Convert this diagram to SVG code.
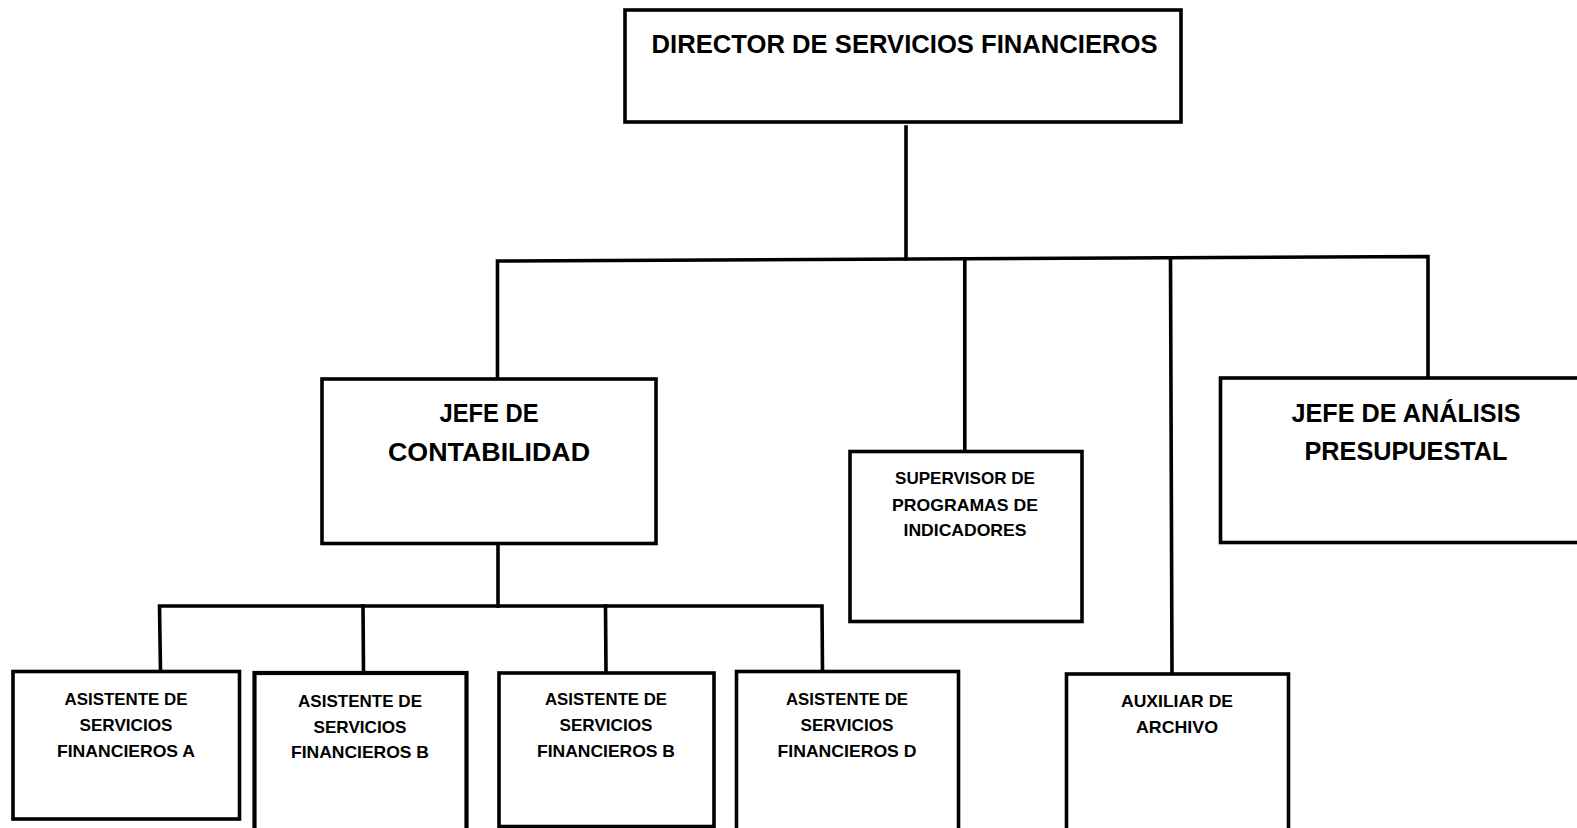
<svg xmlns="http://www.w3.org/2000/svg" width="1577" height="828" viewBox="0 0 1577 828">
<style>
.box{fill:#fff;stroke:#000;stroke-width:3.6}
.ln{fill:none;stroke:#000;stroke-width:3.6;stroke-linecap:square}
text{font-family:"Liberation Sans",Arial,sans-serif;font-weight:bold;fill:#000;text-anchor:middle}
.big{font-size:26.5px}
.sm{font-size:17px}
</style>
<rect width="1577" height="828" fill="#fff"/>
<g id="connectors">
<polyline class="ln" points="906,127 906,259"/>
<polyline class="ln" points="497.5,379 497.5,261 1428,256.5 1428,378"/>
<polyline class="ln" points="964.8,259 964.8,451"/>
<polyline class="ln" points="1170.5,258 1172,673"/>
<polyline class="ln" points="498,544 498,606"/>
<polyline class="ln" points="160.5,671 159.5,606 822,606 822.5,671"/>
<polyline class="ln" points="363,606 363.5,672"/>
<polyline class="ln" points="605.5,606 606,672"/>
</g>
<g id="director">
<rect class="box" x="625" y="10" width="556" height="112"/>
<text class="big" x="904.6" y="52.5" textLength="506" lengthAdjust="spacingAndGlyphs">DIRECTOR DE SERVICIOS FINANCIEROS</text>
</g>
<g id="jefe-contabilidad">
<rect class="box" x="322" y="379" width="334" height="164.5"/>
<text class="big" x="489" y="422" textLength="99" lengthAdjust="spacingAndGlyphs">JEFE DE</text>
<text class="big" x="489" y="461" textLength="202" lengthAdjust="spacingAndGlyphs">CONTABILIDAD</text>
</g>
<g id="supervisor">
<rect class="box" x="850" y="451.5" width="232" height="170"/>
<text class="sm" x="965" y="484" textLength="140" lengthAdjust="spacingAndGlyphs">SUPERVISOR DE</text>
<text class="sm" x="965" y="510.5" textLength="146" lengthAdjust="spacingAndGlyphs">PROGRAMAS DE</text>
<text class="sm" x="965" y="536" textLength="123" lengthAdjust="spacingAndGlyphs">INDICADORES</text>
</g>
<g id="jefe-analisis">
<rect class="box" x="1220.5" y="378" width="370" height="164.5"/>
<text class="big" x="1406" y="421.5" textLength="229" lengthAdjust="spacingAndGlyphs">JEFE DE ANÁLISIS</text>
<text class="big" x="1406" y="459.5" textLength="203" lengthAdjust="spacingAndGlyphs">PRESUPUESTAL</text>
</g>
<g id="asistente-a">
<rect class="box" x="13" y="671.5" width="226.5" height="147.5"/>
<text class="sm" x="126" y="705" textLength="123" lengthAdjust="spacingAndGlyphs">ASISTENTE DE</text>
<text class="sm" x="126" y="731" textLength="93" lengthAdjust="spacingAndGlyphs">SERVICIOS</text>
<text class="sm" x="126" y="756.5" textLength="138" lengthAdjust="spacingAndGlyphs">FINANCIEROS A</text>
</g>
<g id="asistente-b1">
<rect class="box" x="254.5" y="673" width="212" height="170" style="stroke-width:4.2"/>
<text class="sm" x="360" y="706.5" textLength="124" lengthAdjust="spacingAndGlyphs">ASISTENTE DE</text>
<text class="sm" x="360" y="732.5" textLength="93" lengthAdjust="spacingAndGlyphs">SERVICIOS</text>
<text class="sm" x="360" y="758" textLength="138" lengthAdjust="spacingAndGlyphs">FINANCIEROS B</text>
</g>
<g id="asistente-b2">
<rect class="box" x="499" y="673" width="215" height="153.5"/>
<text class="sm" x="606" y="705" textLength="122" lengthAdjust="spacingAndGlyphs">ASISTENTE DE</text>
<text class="sm" x="606" y="731" textLength="93" lengthAdjust="spacingAndGlyphs">SERVICIOS</text>
<text class="sm" x="606" y="756.5" textLength="138" lengthAdjust="spacingAndGlyphs">FINANCIEROS B</text>
</g>
<g id="asistente-d">
<rect class="box" x="736.5" y="671.5" width="222" height="170"/>
<text class="sm" x="847" y="705" textLength="122" lengthAdjust="spacingAndGlyphs">ASISTENTE DE</text>
<text class="sm" x="847" y="731" textLength="93" lengthAdjust="spacingAndGlyphs">SERVICIOS</text>
<text class="sm" x="847" y="756.5" textLength="139" lengthAdjust="spacingAndGlyphs">FINANCIEROS D</text>
</g>
<g id="auxiliar">
<rect class="box" x="1066.5" y="674" width="222" height="170"/>
<text class="sm" x="1177" y="706.5" textLength="112" lengthAdjust="spacingAndGlyphs">AUXILIAR DE</text>
<text class="sm" x="1177" y="732.5" textLength="82" lengthAdjust="spacingAndGlyphs">ARCHIVO</text>
</g>
</svg>
